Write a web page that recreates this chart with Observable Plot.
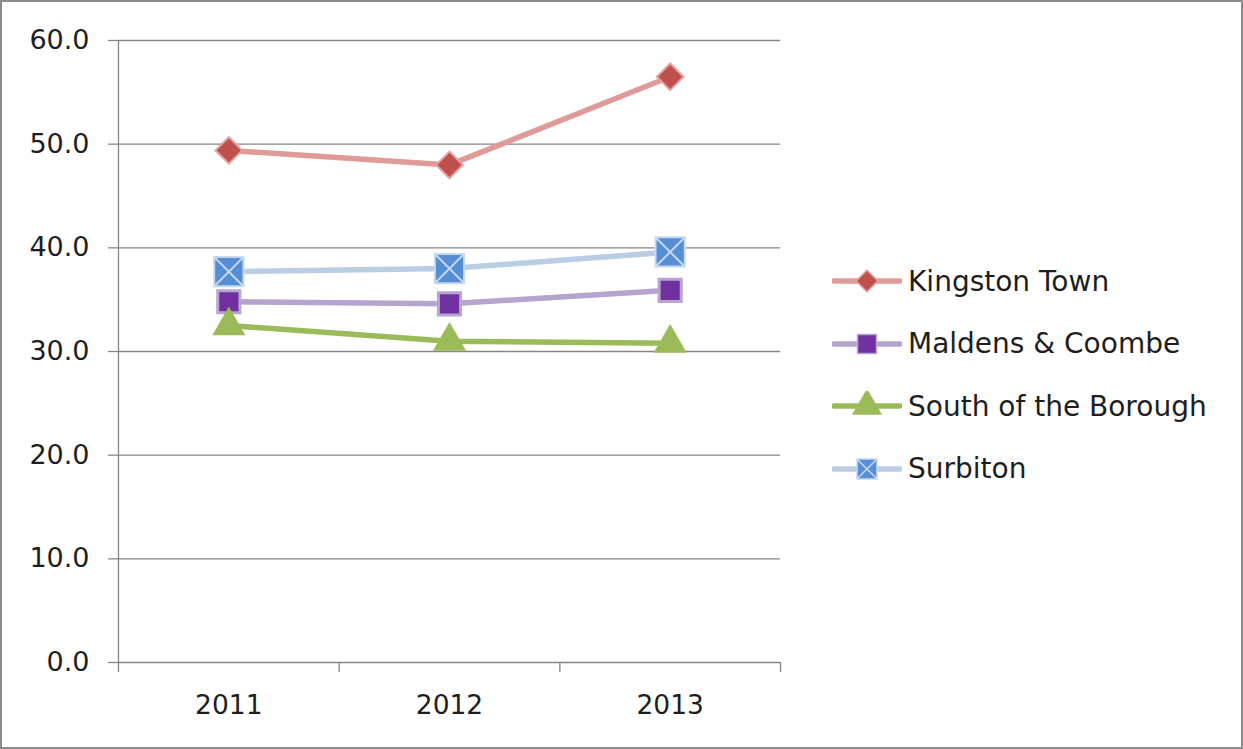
<!DOCTYPE html>
<html>
<head>
<meta charset="utf-8">
<script src="https://cdn.jsdelivr.net/npm/d3@7"></script>
<script src="https://cdn.jsdelivr.net/npm/@observablehq/plot@0.6"></script>
<style>
  html, body { margin: 0; padding: 0; background: #fff; }
  #wrap { position: relative; width: 1243px; height: 749px; overflow: hidden; font-family: "DejaVu Sans", sans-serif; }
  #chart { position: absolute; left: 0; top: 0; }
  #border { position: absolute; left: 0; top: 0; right: 0; bottom: 0; border: 2px solid #8c8c8c; pointer-events: none; }
  #legend { position: absolute; left: 832px; top: 250px; }
  .item { display: flex; align-items: center; height: 62.5px; font-size: 28px; color: #1e1e1e; white-space: nowrap; }
  .item svg { margin-right: 6px; }
</style>
</head>
<body>
<div id="wrap">
  <div id="chart"></div>
  <div id="legend"></div>
  <div id="border"></div>
</div>
<script>
const years = [2011, 2012, 2013];
const seriesNames = ["Kingston Town", "Maldens & Coombe", "South of the Borough", "Surbiton"];
const kingstonTown = [49.4, 48.0, 56.5];
const maldensCoombe = [34.8, 34.6, 35.9];
const southOfTheBorough = [32.5, 31.0, 30.8];
const surbiton = [37.7, 38.0, 39.6];
const yTicks = [0, 10, 20, 30, 40, 50, 60];

const values = [kingstonTown, maldensCoombe, southOfTheBorough, surbiton];
const lineColors = ["#e09a98", "#b7a3cf", "#9bbb59", "#b9cde5"];
const markColors = ["#c0504d", "#7030a0", "#9bbb59", "#558ed5"];
const markStroke = ["#e3a2a0", "#b9a5d1", "#9bbb59", "#c6d9f1"];

const data = [];
seriesNames.forEach((s, i) => years.forEach((y, j) => data.push({series: s, year: y, value: values[i][j]})));
const bySeries = s => data.filter(d => d.series === s);

const boundaries = [years[0] - 0.5, ...years.map(y => y + 0.5)];
const font = "'DejaVu Sans', sans-serif";

const chart = Plot.plot({
  width: 1243,
  height: 749,
  marginLeft: 118,
  marginRight: 463,
  marginTop: 40,
  marginBottom: 87,
  style: {fontFamily: font, fontSize: "26px", color: "#1e1e1e", background: "transparent"},
  x: {type: "linear", domain: [boundaries[0], boundaries[boundaries.length - 1]]},
  y: {domain: [0, 60]},
  marks: [
    Plot.ruleY(yTicks.filter(t => t > 0), {stroke: "#868686", strokeWidth: 1.3, strokeOpacity: 1}),
    Plot.ruleY([0], {stroke: "#868686", strokeWidth: 1.3}),
    Plot.ruleX([boundaries[0]], {stroke: "#868686", strokeWidth: 1.3}),
    Plot.axisY({ticks: yTicks, tickFormat: d => d.toFixed(1), tickSize: 10, tickPadding: 19, stroke: "#868686", strokeWidth: 1.3, label: null, fill: "#1e1e1e", fontSize: 27}),
    Plot.axisX({ticks: boundaries, tickFormat: () => "", tickSize: 10, stroke: "#868686", strokeWidth: 1.3, label: null}),
    Plot.axisX({ticks: years, tickFormat: d => String(d), tickSize: 0, tickPadding: 33, label: null, fill: "#1e1e1e", fontSize: 26.5}),
    ...seriesNames.map((s, i) => Plot.line(bySeries(s), {x: "year", y: "value", stroke: lineColors[i], strokeWidth: 5.5})),
    Plot.dot(bySeries(seriesNames[0]), {x: "year", y: "value", symbol: "diamond2", r: 12, fill: markColors[0], stroke: markStroke[0], strokeWidth: 2}),
    Plot.dot(bySeries(seriesNames[1]), {x: "year", y: "value", symbol: "square", r: 12.5, fill: markColors[1], stroke: markStroke[1], strokeWidth: 3}),
    Plot.dot(bySeries(seriesNames[2]), {x: "year", y: "value", symbol: "triangle", r: 11, fill: markColors[2], stroke: markStroke[2], strokeWidth: 2}),
    Plot.dot(bySeries(seriesNames[3]), {x: "year", y: "value", symbol: "square", r: 16.5, fill: markColors[3], stroke: markStroke[3], strokeWidth: 2}),
    Plot.dot(bySeries(seriesNames[3]), {x: "year", y: "value", symbol: "times", r: 13.5, stroke: "#c6d9f1", strokeWidth: 2})
  ]
});
document.getElementById("chart").append(chart);

// Legend
const legend = d3.select("#legend");
seriesNames.forEach((s, i) => {
  const item = legend.append("div").attr("class", "item");
  const svg = item.append("svg").attr("width", 70).attr("height", 30);
  svg.append("line").attr("x1", 2).attr("x2", 68).attr("y1", 15).attr("y2", 15)
    .attr("stroke", lineColors[i]).attr("stroke-width", 5.5).attr("stroke-linecap", "round");
  const g = svg.append("g").attr("transform", "translate(35,15)");
  const sizes = [300, 360, 330, 400];
  const sym = [d3.symbolDiamond2, d3.symbolSquare, d3.symbolTriangle, d3.symbolSquare][i];
  g.append("path").attr("d", d3.symbol(sym, sizes[i])()).attr("fill", markColors[i]).attr("stroke", markStroke[i]).attr("stroke-width", 1.5);
  if (i === 3) g.append("path").attr("d", d3.symbol(d3.symbolTimes, 280)()).attr("stroke", "#c6d9f1").attr("stroke-width", 1.5).attr("fill", "none");
  item.append("span").text(s);
});
</script>
</body>
</html>
